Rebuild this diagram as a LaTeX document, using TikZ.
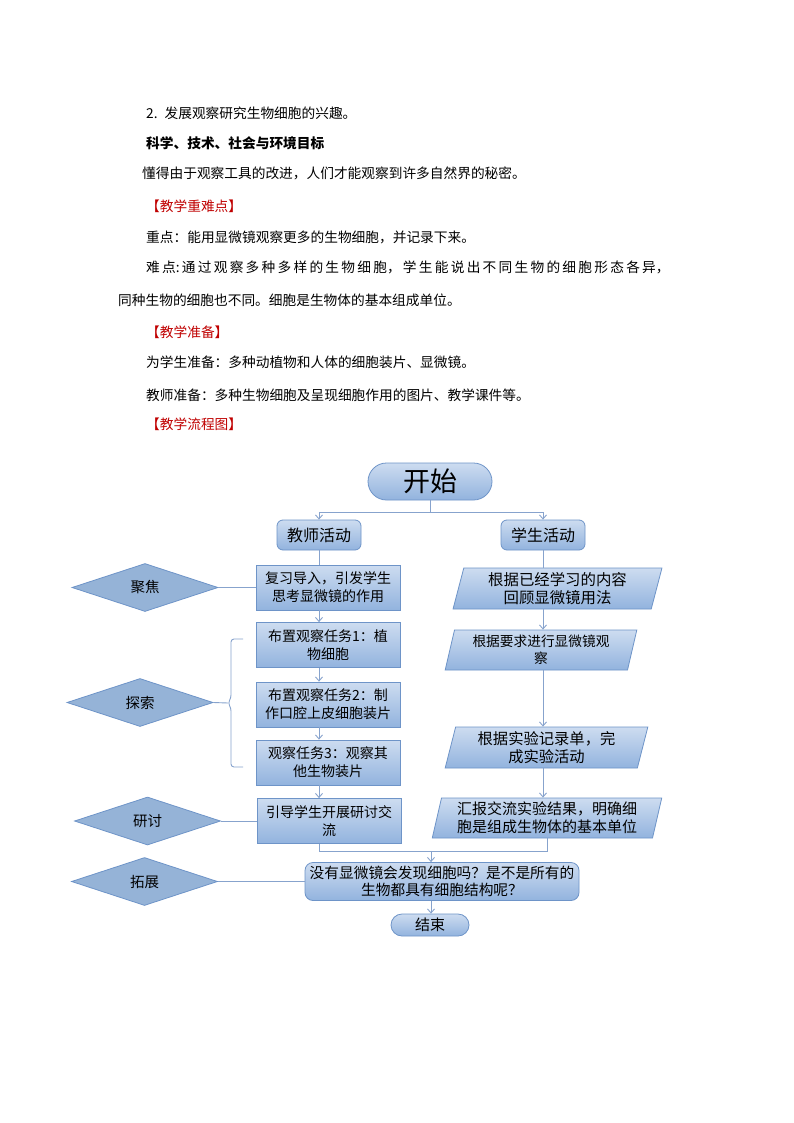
\documentclass[tikz,border=0pt]{standalone}
\usepackage{fontspec}
\setmainfont{Noto Sans CJK SC}
\XeTeXlinebreaklocale "zh"
\XeTeXlinebreakskip=0pt plus 3pt
\usetikzlibrary{arrows.meta, shapes.geometric}
\definecolor{boxtop}{RGB}{205,220,240}
\definecolor{boxbot}{RGB}{146,179,222}
\definecolor{boxline}{RGB}{110,148,200}
\definecolor{diafill}{RGB}{149,179,215}
\definecolor{linecol}{RGB}{135,163,205}
\definecolor{headred}{RGB}{192,0,0}
\tikzset{
  txt/.style={anchor=base west,inner sep=0pt,font=\fontsize{13.7}{18}\selectfont},
  head/.style={txt,text=headred},
  fillbox/.style={draw=boxline,line width=0.8pt,top color=boxtop,bottom color=boxbot,align=center,inner sep=0pt,font=\fontsize{14}{18}\selectfont},
  pill/.style={fillbox,rectangle,rounded corners=#1},
  task/.style={fillbox,rectangle,minimum width=144pt,minimum height=45pt},
  io/.style={fillbox,trapezium,trapezium left angle=76,trapezium right angle=104,trapezium stretches=true},
  stage/.style={diamond,draw=boxline,line width=0.8pt,fill=diafill,aspect=3,inner sep=0pt,minimum width=146pt,minimum height=48pt,font=\fontsize{14.5}{18}\selectfont},
  conn/.style={draw=linecol,line width=0.9pt},
  arr/.style={conn,-{Straight Barb[length=4pt,width=7pt]}}
}
\begin{document}
\begin{tikzpicture}[x=1pt,y=-1pt]
\fill[white] (0,0) rectangle (794,1123);
% page text
\node[txt] (goal2) at (146,118.5) {2.\hspace{7pt}发展观察研究生物细胞的兴趣。};
\node[txt,font=\fontsize{13.7}{18}\selectfont\bfseries] (sts) at (146,148.5) {科学、技术、社会与环境目标};
\node[txt] (stsline) at (142,178.5) {懂得由于观察工具的改进，人们才能观察到许多自然界的秘密。};
\node[head] (keyhead) at (146,212) {【教学重难点】};
\node[txt] (key) at (146,242.5) {重点：能用显微镜观察更多的生物细胞，并记录下来。};
\node[txt,text width=544pt] (hard) at (146,272.5) {{\parfillskip=0pt 难点:通过观察多种多样的生物细胞，学生能说出不同生物的细胞形态各异，\par}};
\node[txt] (hard2) at (118,305) {同种生物的细胞也不同。细胞是生物体的基本组成单位。};
\node[head] (prephead) at (146,337) {【教学准备】};
\node[txt] (prepstu) at (146,367) {为学生准备：多种动植物和人体的细胞装片、显微镜。};
\node[txt] (preptea) at (146,400) {教师准备：多种生物细胞及呈现细胞作用的图片、教学课件等。};
\node[head] (flowhead) at (146,429) {【教学流程图】};

% flow chart
\node[pill=18.5pt,minimum width=124pt,minimum height=37pt,font=\fontsize{27}{30}\selectfont] (start) at (430,481.5) {开始};
\node[pill=6pt,minimum width=84pt,minimum height=30pt,font=\fontsize{16}{18}\selectfont] (teacher) at (319,535) {教师活动};
\node[pill=6pt,minimum width=84pt,minimum height=30pt,font=\fontsize{16}{18}\selectfont] (student) at (543,535) {学生活动};

\node[task] (review) at (328,587.5) {复习导入，引发学生\\思考显微镜的作用};
\node[task] (task1) at (328,645) {布置观察任务1：植\\物细胞};
\node[task] (task2) at (328,704.5) {布置观察任务2：制\\作口腔上皮细胞装片};
\node[task] (task3) at (328,762.5) {观察任务3：观察其\\他生物装片};
\node[task] (guide) at (329,821) {引导学生开展研讨交\\流};

\node[io,minimum width=209pt,minimum height=41pt,font=\fontsize{15.4}{17.5}\selectfont] (recall) at (557.5,588.5) {根据已经学习的内容\\回顾显微镜用法};
\node[io,minimum width=192pt,minimum height=40pt,font=\fontsize{13.7}{17}\selectfont] (observe) at (541,650) {根据要求进行显微镜观\\察};
\node[io,minimum width=203pt,minimum height=41pt,font=\fontsize{15.3}{17.5}\selectfont] (record) at (546.5,747.5) {根据实验记录单，完\\成实验活动};
\node[io,minimum width=230pt,minimum height=40pt,font=\fontsize{15}{17.5}\selectfont] (report) at (547,818) {汇报交流实验结果，明确细\\胞是组成生物体的基本单位};

\node[pill=8pt,minimum width=274pt,minimum height=38pt,font=\fontsize{14.7}{17.5}\selectfont] (question) at (442,881.5) {没有显微镜会发现细胞吗？是不是所有的\\生物都具有细胞结构呢？};
\node[pill=11pt,minimum width=78pt,minimum height=22pt,font=\fontsize{15}{17}\selectfont] (end) at (430,925) {结束};

\node[stage] (focus) at (145,587.5) {聚焦};
\node[stage] (explore) at (140,702.5) {探索};
\node[stage] (discuss) at (147.5,821) {研讨};
\node[stage] (extend) at (144.5,881.5) {拓展};

% connectors
\coordinate (split) at (430,512);
\draw[conn] (start.south) -- (split);
\draw[arr] (split) -| (teacher.north);
\draw[arr] (split) -| (student.north);
\draw[conn] (teacher.south) -- (teacher.south |- review.north);
\draw[conn] (student.south) -- (student.south |- recall.north);

\draw[arr] (review.south -| teacher.south) -- (task1.north -| teacher.south);
\draw[arr] (task1.south -| teacher.south) -- (task2.north -| teacher.south);
\draw[arr] (task2.south -| teacher.south) -- (task3.north -| teacher.south);
\draw[arr] (task3.south -| teacher.south) -- (guide.north -| teacher.south);

\draw[arr] (recall.south -| student.south) -- (observe.north -| student.south);
\draw[arr] (observe.south -| student.south) -- (record.north -| student.south);
\draw[arr] (record.south -| student.south) -- (report.north -| student.south);

\draw[conn] (focus.east) -- (review.west);
\coordinate (bracetip) at (228,703);
\draw[conn,rounded corners=3pt] (243,639) -- (231,639) -- (231,698) -- (bracetip) -- (231,708) -- (231,767) -- (243,767);
\draw[conn] (explore.east) -- (bracetip);
\draw[conn] (discuss.east) -- (guide.west);

\coordinate (join) at (431,851);
\draw[conn] (guide.south -| teacher.south) |- (join) -| (report.south);
\draw[arr] (join) -- (join |- question.north);
\draw[conn] (extend.east) -- (question.west);
\draw[arr] (question.south -| join) -- (end.north -| join);
\end{tikzpicture}
\end{document}
